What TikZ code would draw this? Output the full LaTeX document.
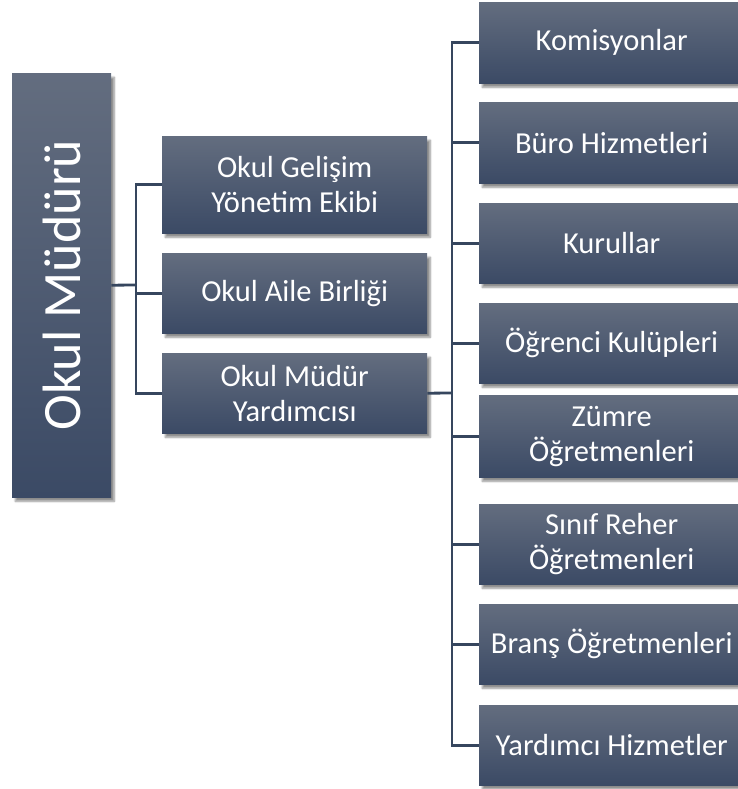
\documentclass[tikz,border=0pt]{standalone}
\usepackage{graphicx, xcolor}
\usepackage{fontspec}
\setmainfont{Carlito}
\usetikzlibrary{shadows.blur}

\definecolor{kutuust}{HTML}{636D7F}
\definecolor{kutualt}{HTML}{3B4A65}
\definecolor{hat}{HTML}{36465E}

\tikzset{
  kutu/.style={anchor=north west, inner sep=0pt, minimum width=265pt, minimum height=80pt,
    top color=kutuust, bottom color=kutualt, text=white, align=center,
    font=\fontsize{30.5}{35}\selectfont,
    blur shadow={shadow xshift=3pt, shadow yshift=-4pt, shadow blur steps=8, shadow opacity=45}},
  baglanti/.style={draw=hat, line width=2.8pt}
}

\begin{document}
\begin{tikzpicture}[x=1pt,y=1pt,yscale=-1,xscale=1]
        \useasboundingbox (0,0) rectangle (737,789);

        %Shape: root box
        \node [kutu, minimum width=99pt, minimum height=424pt, font=\fontsize{54}{60}\selectfont] (mudur) at (12,73) {\rotatebox{90}{Okul Müdürü}};

        %Shape: middle column
        \node [kutu, minimum height=97pt] (gelisim) at (162,136) {Okul Gelişim\\Yönetim Ekibi};
        \node [kutu] (aile) at (162,253) {Okul Aile Birliği};
        \node [kutu] (yardimci) at (162,353) {Okul Müdür\\Yardımcısı};

        %Shape: right column
        \node [kutu, minimum height=81pt] (komisyon) at (479,2) {Komisyonlar};
        \node [kutu, minimum height=81pt] (buro) at (479,102) {Büro Hizmetleri};
        \node [kutu] (kurul) at (479,203) {Kurullar};
        \node [kutu] (kulup) at (479,303) {Öğrenci Kulüpleri};
        \node [kutu, minimum height=82pt] (zumre) at (479,395) {Zümre\\Öğretmenleri};
        \node [kutu] (rehber) at (479,504) {Sınıf Reher\\Öğretmenleri};
        \node [kutu] (brans) at (479,604) {Branş Öğretmenleri};
        \node [kutu] (yardimcihiz) at (479,705) {Yardımcı Hizmetler};

        %Straight Lines: root to middle column
        \coordinate (sol) at (136,285);
        \draw [baglanti] (mudur.east) -- (sol);
        \draw [baglanti] (sol) |- (gelisim.west);
        \draw [baglanti] (sol) |- (aile.west);
        \draw [baglanti] (sol) |- (yardimci.west);

        %Straight Lines: assistant to right column
        \coordinate (sag) at (452,393);
        \draw [baglanti] (yardimci.east) -- (sag);
        \draw [baglanti] (sag) |- (komisyon.west);
        \draw [baglanti] (sag) |- (buro.west);
        \draw [baglanti] (sag) |- (kurul.west);
        \draw [baglanti] (sag) |- (kulup.west);
        \draw [baglanti] (sag) |- (zumre.west);
        \draw [baglanti] (sag) |- (rehber.west);
        \draw [baglanti] (sag) |- (brans.west);
        \draw [baglanti] (sag) |- (yardimcihiz.west);

\end{tikzpicture}
\end{document}
